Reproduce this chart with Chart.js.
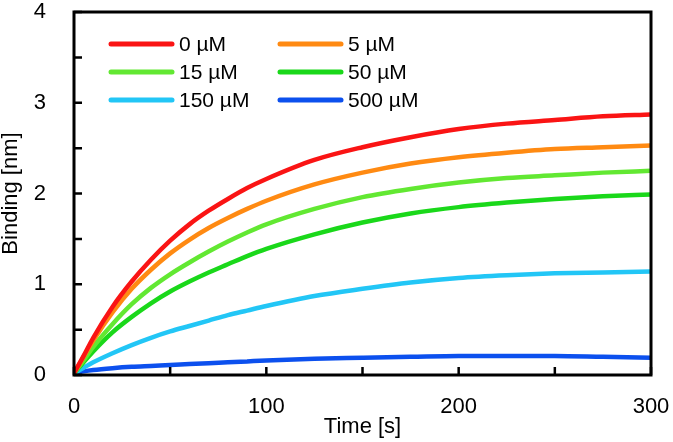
<!DOCTYPE html>
<html>
<head>
<meta charset="utf-8">
<script src="https://cdn.jsdelivr.net/npm/chart.js@4"></script>
<style>
  html, body { margin: 0; padding: 0; background: #fff; }
  #wrap { width: 673px; height: 442px; }
</style>
</head>
<body>
<div id="wrap"><canvas id="myChart" width="673" height="442"></canvas></div>
<script>
// time points [s]
const times = [0, 5, 10, 20, 30, 40, 50, 60, 70, 80, 90, 100, 125, 150, 175, 200, 225, 250, 275, 300];

// binding [nm] for each concentration
const uM0   = [0.02, 0.21, 0.41, 0.75, 1.03, 1.27, 1.48, 1.66, 1.81, 1.94, 2.06, 2.16, 2.37, 2.51, 2.62, 2.71, 2.77, 2.81, 2.85, 2.87];
const uM5   = [0.02, 0.20, 0.38, 0.69, 0.95, 1.16, 1.34, 1.49, 1.62, 1.73, 1.83, 1.92, 2.10, 2.23, 2.33, 2.40, 2.45, 2.49, 2.51, 2.53];
const uM15  = [0.02, 0.16, 0.31, 0.56, 0.78, 0.96, 1.11, 1.24, 1.36, 1.47, 1.57, 1.66, 1.83, 1.96, 2.05, 2.12, 2.17, 2.20, 2.23, 2.25];
const uM50  = [0.02, 0.14, 0.26, 0.47, 0.64, 0.79, 0.92, 1.03, 1.13, 1.22, 1.31, 1.39, 1.55, 1.68, 1.78, 1.85, 1.90, 1.94, 1.97, 1.99];
const uM150 = [0.02, 0.08, 0.14, 0.24, 0.33, 0.41, 0.48, 0.54, 0.60, 0.66, 0.71, 0.76, 0.87, 0.95, 1.02, 1.07, 1.10, 1.12, 1.13, 1.14];
const uM500 = [0.02, 0.04, 0.055, 0.075, 0.09, 0.10, 0.11, 0.12, 0.13, 0.14, 0.15, 0.16, 0.18, 0.19, 0.20, 0.21, 0.21, 0.21, 0.20, 0.19];

const labels = ['0 µM', '5 µM', '15 µM', '50 µM', '150 µM', '500 µM'];
const colors = ['#fa1414', '#ff8a12', '#62e832', '#1ad81a', '#22c6f6', '#0c50ee'];
const series = [uM0, uM5, uM15, uM50, uM150, uM500];

const FONT = '"Liberation Sans", Arial, sans-serif';

// box + inward ticks
const framePlugin = {
  id: 'frame',
  afterDraw(chart) {
    const { ctx, chartArea: a, scales } = chart;
    ctx.save();
    ctx.strokeStyle = '#000';
    ctx.lineWidth = 2.5;
    ctx.beginPath();
    scales.x.ticks.forEach(t => {
      const px = scales.x.getPixelForValue(t.value);
      ctx.moveTo(px, a.bottom);
      ctx.lineTo(px, a.bottom - 8);
    });
    scales.y.ticks.forEach(t => {
      const py = scales.y.getPixelForValue(t.value);
      ctx.moveTo(a.left, py);
      ctx.lineTo(a.left + 8, py);
    });
    ctx.stroke();
    ctx.lineWidth = 3;
    ctx.strokeRect(a.left, a.top, a.right - a.left, a.bottom - a.top);
    ctx.restore();
  }
};

// two-column legend inside the plot
const legendPlugin = {
  id: 'legend2',
  afterDatasetsDraw(chart) {
    const { ctx } = chart;
    const cols = [111, 280];
    const rows = [44, 72, 100];
    ctx.save();
    ctx.font = '21px ' + FONT;
    ctx.textBaseline = 'middle';
    ctx.fillStyle = '#000';
    ctx.lineCap = 'round';
    chart.data.datasets.forEach((ds, i) => {
      const x = cols[i % 2];
      const y = rows[Math.floor(i / 2)];
      ctx.strokeStyle = ds.borderColor;
      ctx.lineWidth = 5;
      ctx.beginPath();
      ctx.moveTo(x, y);
      ctx.lineTo(x + 61, y);
      ctx.stroke();
      ctx.fillText(ds.label, x + 68, y + 1);
    });
    ctx.restore();
  }
};

function noOverflow(s) {
  s.paddingTop = 0;
  s.paddingBottom = 0;
  s.paddingLeft = 0;
  s.paddingRight = 0;
}

const ctx = document.getElementById('myChart').getContext('2d');
new Chart(ctx, {
  type: 'line',
  data: {
    datasets: series.map((s, i) => ({
      label: labels[i],
      data: s.map((v, j) => ({ x: times[j], y: v })),
      borderColor: colors[i],
      backgroundColor: colors[i],
      borderWidth: 4.5,
      pointRadius: 0,
      fill: false,
      cubicInterpolationMode: 'monotone'
    }))
  },
  options: {
    responsive: false,
    animation: false,
    layout: { padding: { top: 12, right: 22, left: 0, bottom: 0 } },
    plugins: {
      legend: { display: false },
      tooltip: { enabled: false }
    },
    scales: {
      x: {
        type: 'linear',
        min: 0,
        max: 300,
        border: { display: false },
        grid: { display: false },
        ticks: {
          stepSize: 50,
          autoSkip: false,
          maxRotation: 0,
          padding: 11,
          color: '#000',
          font: { family: FONT, size: 22 },
          callback: v => (v % 100 === 0 ? v : '')
        },
        title: {
          display: true,
          text: 'Time [s]',
          color: '#000',
          font: { family: FONT, size: 22, lineHeight: 1 },
          padding: { top: 0, bottom: 4 }
        },
        afterFit: s => { noOverflow(s); s.height = 67; }
      },
      y: {
        min: 0,
        max: 4,
        border: { display: false },
        grid: { display: false },
        ticks: {
          stepSize: 0.5,
          autoSkip: false,
          padding: 20,
          color: '#000',
          font: { family: FONT, size: 22 },
          callback: v => (Number.isInteger(v) ? v : '')
        },
        title: {
          display: true,
          text: 'Binding [nm]',
          color: '#000',
          font: { family: FONT, size: 22, lineHeight: 1 },
          padding: { top: 0, bottom: 0 }
        },
        afterFit: s => { noOverflow(s); s.width = 74; }
      }
    }
  },
  plugins: [framePlugin, legendPlugin]
});
</script>
</body>
</html>
